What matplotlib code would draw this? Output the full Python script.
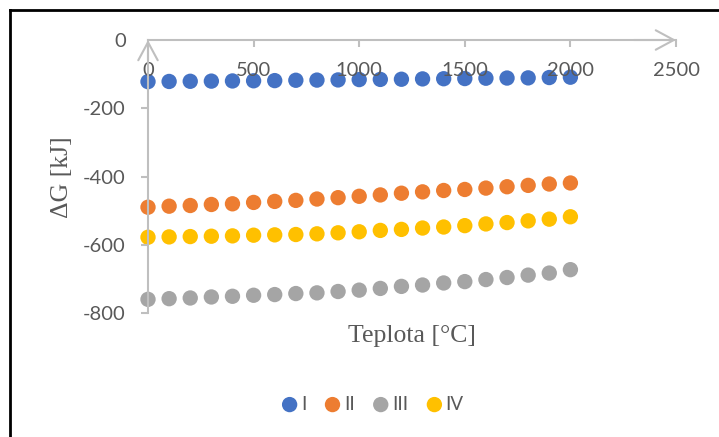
import numpy as np
import matplotlib; matplotlib.use("Agg")
import matplotlib.pyplot as plt
from matplotlib.lines import Line2D

# temperature [°C] and Gibbs energy change [kJ] for the four reactions
teplota = [0, 100, 200, 300, 400, 500, 600, 700, 800, 900, 1000,
           1100, 1200, 1300, 1400, 1500, 1600, 1700, 1800, 1900, 2000]
dG_I = [-122, -121.5, -121, -120.5, -120, -119.5, -119, -118, -117.5, -117, -116,
        -115.5, -115, -114, -113.5, -113, -112, -111.5, -111, -110, -109]
dG_II = [-490, -487, -485, -482, -480, -476, -473, -470, -466, -462, -458,
         -454, -449, -445, -441, -438, -434, -430, -426, -422, -419]
dG_III = [-760, -758, -756, -753, -751, -748, -746, -743, -741, -737, -733,
          -728, -722, -718, -712, -708, -702, -696, -689, -683, -673]
dG_IV = [-578, -577, -576, -575, -574, -572, -571, -570, -568, -565, -562,
         -558, -555, -551, -548, -544, -539, -535, -530, -525, -518]
series = [("I", dG_I, "#4472C4"), ("II", dG_II, "#ED7D31"),
          ("III", dG_III, "#A5A5A5"), ("IV", dG_IV, "#FFC000")]
xticks = [0, 500, 1000, 1500, 2000, 2500]
yticks = [0, -200, -400, -600, -800]

txt = "#595959"; axc = "#BFBFBF"
plt.rcParams["font.family"] = ["Lato", "DejaVu Sans"]
plt.rcParams["axes.unicode_minus"] = False

fig = plt.figure(figsize=(7.19, 4.37), dpi=100)
ax = fig.add_axes([148/719, 1 - 313/437, 528/719, 273/437])
for name, y, c in series:
    ax.scatter(teplota, y, s=122, color=c, edgecolors="none", label=name, zorder=1, clip_on=False)

ax.set_xlim(0, 2500); ax.set_ylim(-800, 0)
ax.spines["bottom"].set_position(("data", 0))
for s in ("top", "right"):
    ax.spines[s].set_visible(False)
for s in ("bottom", "left"):
    ax.spines[s].set_color(axc); ax.spines[s].set_linewidth(1.5)
ax.set_xticks(xticks); ax.set_yticks(yticks)
ax.tick_params(axis="x", direction="out", length=5, width=1.5, color=axc, labelcolor=txt,
               labelsize=14.5, pad=11)
ax.tick_params(axis="y", direction="out", length=5, width=1.5, color=axc, labelcolor=txt,
               labelsize=14.5, pad=11)
ax.xaxis.get_major_ticks()[0].tick1line.set_visible(False)
ax.yaxis.get_major_ticks()[0].tick1line.set_visible(False)

# open arrowheads at the axis ends
ap = dict(arrowstyle="->,head_length=1.3,head_width=0.7", color=axc, lw=1.5,
          shrinkA=0, shrinkB=0, mutation_scale=10)
ax.annotate("", xy=(2500, 0), xytext=(2300, 0), arrowprops=ap, annotation_clip=False)
ax.annotate("", xy=(0, 0), xytext=(0, -60), arrowprops=ap, annotation_clip=False)

fig.text(62/719, 1 - 177/437, "ΔG [kJ]", rotation=90, ha="center", va="center",
         fontsize=18.5, color=txt, family=["Liberation Serif"])
fig.text(412/719, 1 - 336/437, "Teplota [°C]", ha="center", va="center",
         fontsize=18.5, color=txt, family=["Liberation Serif"])

fig.legend(loc="center", bbox_to_anchor=(372/719, 1 - 404/437), ncol=4, frameon=False,
           fontsize=13.5, labelcolor=txt, handletextpad=0.1, columnspacing=0.9,
           markerscale=1.0, handlelength=1.0)

# chart frame (left and top edges visible in the crop)
fig.add_artist(Line2D([10/719, 10/719], [0, 1 - 10/437], color="black", lw=2, transform=fig.transFigure))
fig.add_artist(Line2D([10/719, 1], [1 - 10/437, 1 - 10/437], color="black", lw=2, transform=fig.transFigure))

fig.savefig("out.png", dpi=100)
